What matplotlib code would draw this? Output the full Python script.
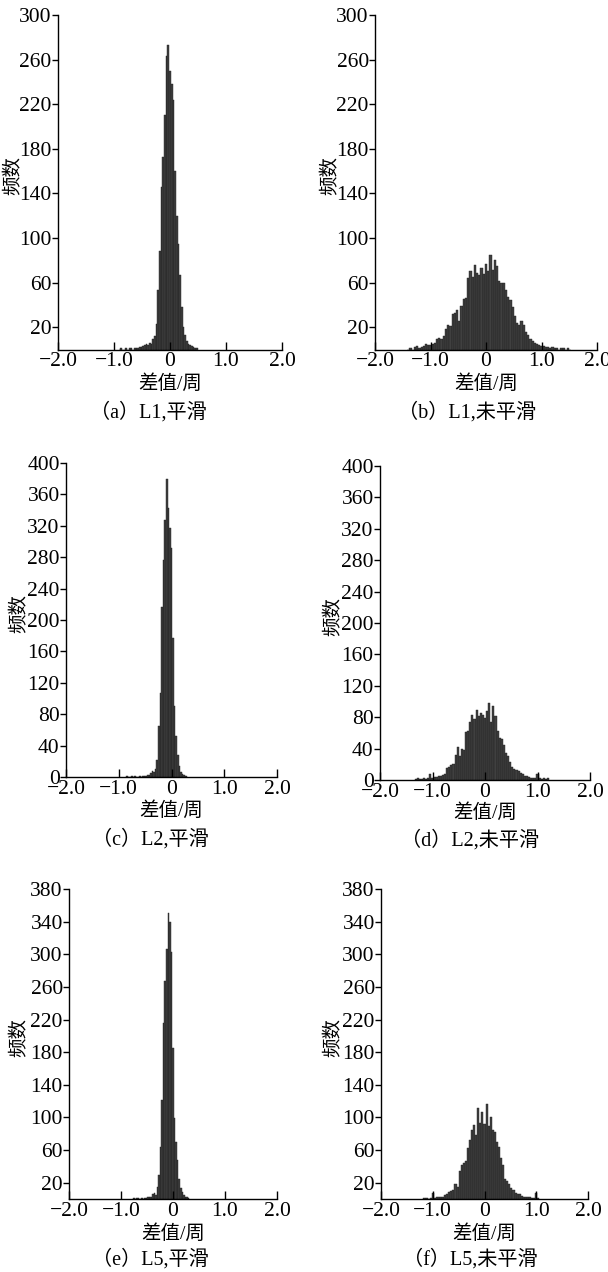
import numpy as np
import matplotlib.pyplot as plt

plt.rcParams['font.family'] = ['Liberation Serif', 'Noto Sans CJK SC', 'DejaVu Sans']
plt.rcParams['axes.unicode_minus'] = True

W, H = 608, 1272

# histogram counts (bin centres = start + k*step)
start_a, step_a = -0.90, 0.03
counts_a = [0, 1, 0, 0, 1, 0, 1, 1, 0, 1, 1, 1, 2, 2, 3, 4, 5, 4, 6, 5, 9, 12, 23,
            53, 88, 146, 173, 210, 263, 273, 250, 238, 224, 160, 120, 95, 67, 38,
            20, 13, 8, 5, 4, 3, 2, 1, 1]

start_b, step_b = -1.40, 0.04
counts_b = [0, 1, 0, 2, 3, 1, 2, 3, 5, 4, 4, 5, 6, 9, 10, 9, 12, 18, 22, 21, 32, 33,
            35, 26, 39, 45, 46, 64, 70, 65, 76, 69, 67, 73, 68, 77, 70, 85, 71, 80,
            75, 61, 60, 60, 53, 47, 44, 38, 30, 24, 22, 26, 22, 16, 13, 9, 8, 6, 5,
            4, 3, 3, 2, 2, 1, 2, 1, 1, 0, 1, 1, 0, 1, 0]

start_c, step_c = -0.84, 0.03
counts_c = [1, 0, 0, 1, 0, 1, 0, 0, 1, 0, 1, 1, 1, 2, 3, 5, 8, 7, 10, 22, 65, 107,
            217, 277, 328, 380, 343, 317, 292, 177, 90, 52, 28, 14, 6, 4, 3, 1]

start_d, step_d = -1.32, 0.04
counts_d = [1, 2, 1, 1, 2, 1, 3, 8, 2, 4, 4, 5, 5, 6, 8, 15, 17, 19, 21, 32, 42, 30,
            40, 38, 61, 63, 74, 83, 78, 89, 81, 85, 83, 79, 88, 98, 74, 94, 81, 62,
            53, 52, 45, 34, 30, 23, 17, 14, 13, 11, 9, 8, 5, 5, 4, 3, 3, 2, 8, 2,
            1, 2, 1, 2]

start_e, step_e = -0.75, 0.03
counts_e = [1, 0, 1, 1, 0, 1, 0, 1, 1, 2, 3, 3, 6, 7, 5, 15, 29, 64, 121, 216, 267,
            306, 350, 340, 303, 185, 99, 70, 48, 25, 13, 8, 5, 3, 2, 1]

start_f, step_f = -1.16, 0.04
counts_f = [1, 1, 0, 1, 7, 1, 2, 2, 3, 3, 5, 6, 9, 10, 11, 19, 15, 34, 42, 44, 46,
            62, 72, 85, 91, 79, 111, 93, 107, 92, 117, 89, 101, 85, 82, 70, 64, 50,
            42, 25, 22, 19, 13, 11, 7, 6, 6, 4, 3, 2, 2, 2, 1, 1, 7, 1]

xticks = [-2.0, -1.0, 0.0, 1.0, 2.0]
xticklabels = ['\u22122.0', '\u22121.0', '0', '1.0', '2.0']
yticks_1 = [20, 60, 100, 140, 180, 220, 260, 300]
yticks_2 = [0, 40, 80, 120, 160, 200, 240, 280, 320, 360, 400]
yticks_5 = [20, 60, 100, 140, 180, 220, 260, 300, 340, 380]
captions = ['（a）L1,平滑', '（b）L1,未平滑', '（c）L2,平滑',
            '（d）L2,未平滑', '（e）L5,平滑', '（f）L5,未平滑']

# pixel boxes: left, right, top, bottom, ylabel x, xlabel y, caption x, caption y
panels = [
    (start_a, step_a, counts_a, 300, yticks_1, (58, 282, 15, 349.5, 14, 383, 148, 412)),
    (start_b, step_b, counts_b, 300, yticks_1, (375, 597, 15, 349.5, 331, 383, 467, 412)),
    (start_c, step_c, counts_c, 400, yticks_2, (66, 277, 463, 777, 20, 810, 150, 839)),
    (start_d, step_d, counts_d, 400, yticks_2, (380, 590, 466, 780, 334, 812, 470, 840)),
    (start_e, step_e, counts_e, 380, yticks_5, (69, 277, 889, 1199, 20, 1233, 150, 1259)),
    (start_f, step_f, counts_f, 380, yticks_5, (381, 588, 889, 1199, 334, 1233, 470, 1259)),
]

fig = plt.figure(figsize=(W / 100, H / 100), dpi=100)

for i, (st, sp, cnt, ymax, yt, box) in enumerate(panels):
    l, r, t, b, ylx, xly, capx, capy = box
    ax = fig.add_axes([l / W, 1 - b / H, (r - l) / W, (b - t) / H])
    centers = st + sp * np.arange(len(cnt))
    ax.bar(centers, cnt, width=sp, color='#404040', edgecolor='#1e1e1e',
           linewidth=0.3)
    ax.set_xlim(-2.0, 2.0)
    ax.set_ylim(0, ymax)
    ax.set_xticks(xticks)
    ax.set_xticklabels(xticklabels)
    ax.set_yticks(yt)
    ax.spines['top'].set_visible(False)
    ax.spines['right'].set_visible(False)
    ax.spines['left'].set_linewidth(1.0)
    ax.spines['bottom'].set_linewidth(1.0)
    ax.tick_params(axis='x', direction='in', length=6, width=1.0, labelsize=15.5, pad=2)
    ax.tick_params(axis='y', direction='out', length=4, width=1.0, labelsize=15.5, pad=0.5)
    fig.text((l + r) / 2 / W, 1 - xly / H, '差值/周', ha='center', va='center',
             fontsize=14)
    fig.text(ylx / W, 1 - (t + b) / 2 / H + 0.005, '频数', ha='center', va='center',
             rotation=90, fontsize=14)
    fig.text(capx / W, 1 - capy / H, captions[i], ha='center', va='center',
             fontsize=14.5)

fig.savefig('out.png', dpi=100, facecolor='white')
